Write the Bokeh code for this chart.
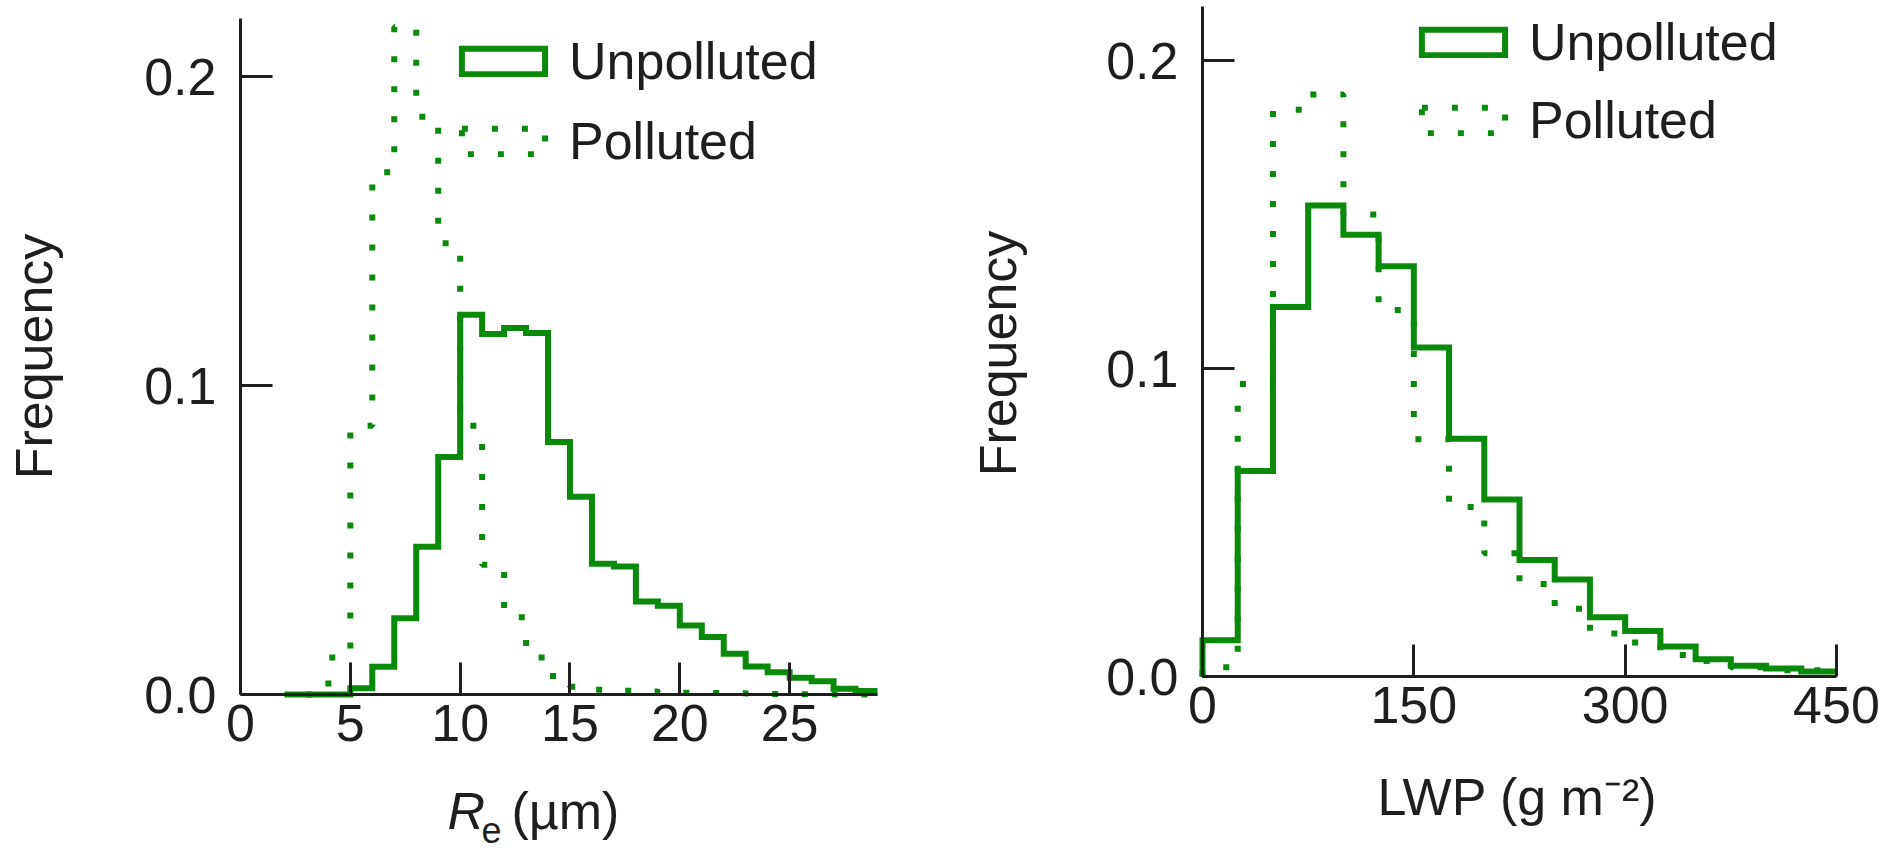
import math
from bokeh.plotting import figure
from bokeh.models import (Range1d, FixedTicker, PrintfTickFormatter, Legend,
                          LegendItem, Label)
from bokeh.layouts import row
from bokeh.embed import file_html
from bokeh.resources import INLINE

# ---------------- data ----------------
# Panel a: effective radius Re (um), 1-um bins
re_unpol_edges = list(range(2, 30))
re_unpolluted = [0.0, 0.0, 0.0, 0.002, 0.009, 0.0247, 0.0478, 0.0769, 0.1229,
                 0.1167, 0.1186, 0.117, 0.0817, 0.064, 0.0423, 0.0414, 0.0301,
                 0.0287, 0.0223, 0.0186, 0.0132, 0.0091, 0.0072, 0.0054,
                 0.0043, 0.0019, 0.0011]
re_pol_edges = list(range(3, 30))
re_polluted = [0.0, 0.012, 0.087, 0.169, 0.216, 0.187, 0.146, 0.087, 0.042,
               0.025, 0.012, 0.006, 0.0025, 0.0015, 0.0012, 0.001, 0.0008,
               0.0006, 0.0005, 0.0004, 0.0003, 0.0002, 0.0001, 0.0001, 0.0,
               0.0]
re_xticks = [0, 5, 10, 15, 20, 25]

# Panel b: liquid water path LWP (g m-2), 25-unit bins
lwp_edges = list(range(0, 451, 25))
lwp_unpolluted = [0.0118, 0.0667, 0.120, 0.1529, 0.1434, 0.1332, 0.1068,
                  0.0772, 0.0575, 0.0378, 0.0315, 0.0192, 0.0148, 0.0097,
                  0.0056, 0.0035, 0.0026, 0.0016]
lwp_polluted = [0.003, 0.095, 0.184, 0.189, 0.150, 0.119, 0.077, 0.055,
                0.040, 0.030, 0.022, 0.014, 0.011, 0.007, 0.005, 0.003,
                0.002, 0.002]
lwp_xticks = [0, 150, 300, 450]

freq_ticks = [0.0, 0.1, 0.2]
series_names = ["Unpolluted", "Polluted"]

# ---------------- styling ----------------
GREEN = "#0a8a0a"
INK = "#1e1e1e"
FONT = "Liberation Sans"
FS = "52px"
LW = 6
DOT = "6 24"
H = 851


def step_coords(edges, vals):
    xs, ys = [edges[0]], [0.0]
    for i, v in enumerate(vals):
        xs += [edges[i], edges[i + 1]]
        ys += [v, v]
    return xs, ys


def make_fig(width, xr, yr, xbounds, ybounds, xticks):
    p = figure(width=width, height=H, x_range=Range1d(*xr),
               y_range=Range1d(*yr), output_backend="svg",
               toolbar_location=None, min_border=0)
    p.outline_line_color = None
    p.xgrid.visible = False
    p.ygrid.visible = False
    for ax in (p.xaxis[0], p.yaxis[0]):
        ax.fixed_location = 0
        ax.axis_line_width = 3
        ax.axis_line_color = INK
        ax.major_tick_in = 32
        ax.major_tick_out = 0
        ax.major_tick_line_width = 3
        ax.major_tick_line_color = INK
        ax.minor_tick_line_color = None
        ax.major_label_text_font = FONT
        ax.major_label_text_font_size = FS
        ax.major_label_text_color = INK
    p.xaxis[0].bounds = xbounds
    p.yaxis[0].bounds = ybounds
    p.xaxis[0].ticker = FixedTicker(ticks=xticks)
    p.xaxis[0].major_label_standoff = 10
    p.yaxis[0].ticker = FixedTicker(ticks=freq_ticks)
    p.yaxis[0].formatter = PrintfTickFormatter(format="%.1f")
    p.yaxis[0].major_label_standoff = 24
    return p


def text(p, x, y, s, size=FS, style="normal", angle=0.0, align="left"):
    # y is the vertical centre of the text box
    p.add_layout(Label(x=x, y=y, text=s, text_font=FONT, text_font_size=size,
                       text_font_style=style, text_color=INK, angle=angle,
                       text_align=align, text_baseline="middle"))


def add_hists(p, e_u, v_u, e_p, v_p, loc, spacing):
    xp, yp = step_coords(e_p, v_p)
    p.line(xp, yp, line_color=GREEN, line_width=LW, line_dash=DOT,
           line_cap="butt")
    xu, yu = step_coords(e_u, v_u)
    p.line(xu, yu, line_color=GREEN, line_width=LW, line_join="miter")
    # hidden outline patches: give the legend its rectangular swatches
    r_u = p.patch(xu, yu, fill_color=None, line_color=GREEN, line_width=LW,
                  line_join="miter", visible=False)
    r_p = p.patch(xp, yp, fill_color=None, line_color=GREEN, line_width=LW,
                  line_dash=DOT, visible=False)
    leg = Legend(items=[LegendItem(label=series_names[0], renderers=[r_u]),
                        LegendItem(label=series_names[1], renderers=[r_p])],
                 location=loc, glyph_width=104, glyph_height=32,
                 label_standoff=14, spacing=spacing, padding=0, margin=0,
                 border_line_color=None, background_fill_alpha=0,
                 label_text_font=FONT, label_text_font_size=FS,
                 label_text_color=INK, label_height=32,
                 click_policy="none")
    p.add_layout(leg)


# ---------------- left panel (canvas 0..960 px) ----------------
# pixel frame of the axes: x 0->240, 29->877 ; y 0->694, 0.2->76
sx1 = 637 / 29.0
sy1 = 618 / 0.2
p1 = make_fig(960, (-240 / sx1, 29 + 83 / sx1), (-(H - 694) / sy1, 694 / sy1),
              (0, 29), (0, 676 / sy1), re_xticks)
add_hists(p1, re_unpol_edges, re_unpolluted, re_pol_edges, re_polluted,
          (451, 680), 20)
text(p1, (33 - 240) / sx1, (694 - 356) / sy1, "Frequency", angle=math.pi / 2,
     align="center")
text(p1, (447 - 240) / sx1, -(810 - 694) / sy1, "R", style="italic")
text(p1, (481 - 240) / sx1, -(829 - 694) / sy1, "e", size="36px")
text(p1, (511 - 240) / sx1, -(810 - 694) / sy1, "(µm)")

# ---------------- right panel (canvas 960..1888 px) ----------------
# pixel frame: x 0->1202, 450->1836 ; y 0->676, 0.2->60
sx2 = 634 / 450.0
sy2 = 616 / 0.2
p2 = make_fig(928, (-(1202 - 960) / sx2, 450 + (1888 - 1836) / sx2),
              (-(H - 676) / sy2, 676 / sy2), (0, 450), (0, 670 / sy2),
              lwp_xticks)
add_hists(p2, lwp_edges, lwp_unpolluted, lwp_edges, lwp_polluted,
          (451, 701), 18)
text(p2, (997 - 1202) / sx2, (676 - 353) / sy2, "Frequency",
     angle=math.pi / 2, align="center")
text(p2, (1517 - 1202) / sx2, -(796 - 676) / sy2, "LWP (g m⁻²)",
     align="center")

layout = row(p1, p2)
open("out.html", "w").write(file_html(layout, INLINE))
